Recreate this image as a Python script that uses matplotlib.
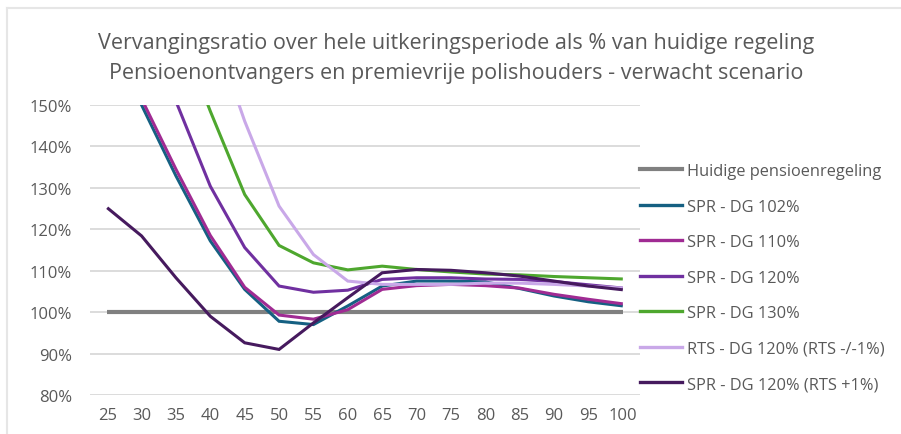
import numpy as np
import matplotlib.pyplot as plt
import matplotlib.ticker as ticker
from matplotlib.lines import Line2D

# leeftijden (x-as)
leeftijd = [25, 30, 35, 40, 45, 50, 55, 60, 65, 70, 75, 80, 85, 90, 95, 100]

# vervangingsratio in % (waarden > 150 vallen buiten beeld)
huidig = [100] * 16
spr_102 = [172, 150, 132.9, 117.2, 105.5, 97.8, 97.0, 101.5, 106.3, 107.5, 107.5, 107.3, 105.7, 103.9, 102.5, 101.5]
spr_110 = [174, 151.5, 134.5, 118.5, 106.0, 99.3, 98.3, 100.6, 105.5, 106.4, 106.7, 106.4, 105.8, 104.3, 103.1, 102.0]
spr_120 = [195, 172, 150.9, 130.4, 115.6, 106.3, 104.8, 105.3, 107.9, 108.3, 108.3, 108.0, 107.9, 107.4, 106.6, 105.8]
spr_130 = [215, 192, 170, 148.5, 128.4, 116.1, 111.9, 110.2, 111.1, 110.3, 109.7, 109.2, 109.0, 108.6, 108.3, 108.0]
rts_120 = [230, 210, 190, 170, 146.1, 125.6, 113.9, 107.5, 106.7, 106.7, 106.7, 107.0, 107.0, 106.7, 106.3, 105.8]
spr_120_rts1 = [125.2, 118.4, 108.3, 99.0, 92.6, 91.0, 97.4, 103.5, 109.5, 110.3, 110.1, 109.5, 108.7, 107.5, 106.3, 105.4]

labels = ["Huidige pensioenregeling", "SPR - DG 102%", "SPR - DG 110%", "SPR - DG 120%",
          "SPR - DG 130%", "RTS - DG 120% (RTS -/-1%)", "SPR - DG 120% (RTS +1%)"]
colors = ['#808080', '#156082', '#A02B93', '#7030A0', '#4EA72E', '#C9A8E8', '#461A5E']
series = [huidig, spr_102, spr_110, spr_120, spr_130, rts_120, spr_120_rts1]

TEXT = '#595959'
plt.rcParams['font.family'] = ['Open Sans', 'DejaVu Sans']

fig = plt.figure(figsize=(9.01, 4.35), dpi=100)
ax = fig.add_axes([90 / 901, 1 - 396 / 435, 550 / 901, 290 / 435])

for i, (vals, col) in enumerate(zip(series, colors)):
    lw = 3.0 if i == 0 else 2.2
    ax.plot(leeftijd, vals, color=col, linewidth=lw, zorder=3 + i,
            solid_joinstyle='miter', solid_capstyle='butt')

ax.set_xlim(22.5, 102.5)
ax.set_ylim(80, 150)
ax.set_xticks(leeftijd)
ax.set_yticks(np.arange(80, 151, 10))
ax.yaxis.set_major_formatter(ticker.FuncFormatter(lambda v, pos: f'{v:.0f}%'))
ax.grid(axis='y', color='#D9D9D9', linewidth=1.3)
ax.set_axisbelow(True)
for s in ax.spines.values():
    s.set_visible(False)
ax.tick_params(length=0, labelsize=12, labelcolor=TEXT)
ax.tick_params(axis='y', pad=13)
ax.tick_params(axis='x', pad=9)

fig.text(456 / 901, 1 - 43 / 435, "Vervangingsratio over hele uitkeringsperiode als % van huidige regeling",
         ha='center', va='center', fontsize=15.5, color=TEXT)
fig.text(456 / 901, 1 - 73 / 435, "Pensioenontvangers en premievrije polishouders - verwacht scenario",
         ha='center', va='center', fontsize=15.5, color=TEXT)

handles = [Line2D([], [], color=c, linewidth=3.0 if i == 0 else 2.4) for i, c in enumerate(colors)]
fig.legend(handles, labels, loc='upper left', bbox_to_anchor=(640 / 901, 1 - 164 / 435),
           frameon=False, fontsize=11.8, labelcolor=TEXT, handlelength=2.56,
           handletextpad=0.3, labelspacing=1.19, borderpad=0, borderaxespad=0)

# lichte kaderlijnen zoals in de schermafbeelding
fig.add_artist(Line2D([7 / 901, 1], [1 - 9 / 435, 1 - 9 / 435], color='#E6E6E6', linewidth=1.5))
fig.add_artist(Line2D([7 / 901, 7 / 901], [0, 1 - 9 / 435], color='#E6E6E6', linewidth=1.5))

fig.savefig('out.png', dpi=100)
